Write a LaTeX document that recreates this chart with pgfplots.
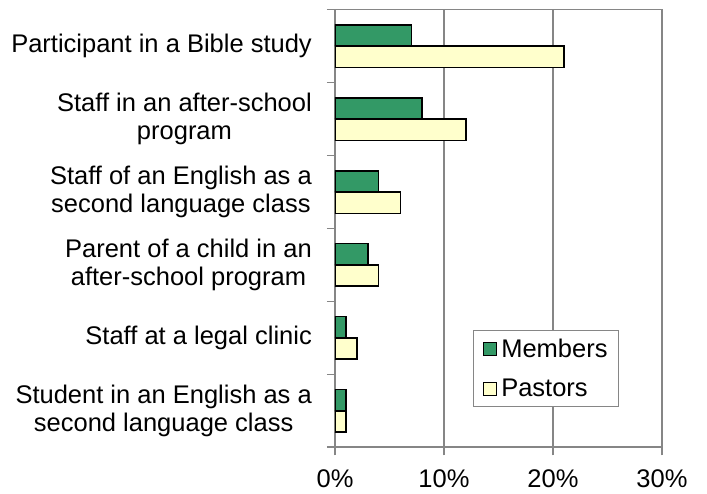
\documentclass[border=0pt]{standalone}
\usepackage{pgfplots}
\pgfplotsset{compat=1.18}
\usepackage{fontspec}
\setmainfont{Liberation Sans}
\definecolor{memgreen}{RGB}{51,153,102}
\definecolor{pasyellow}{RGB}{255,255,204}
\definecolor{axgray}{RGB}{134,134,134}
\newcommand{\chartfont}{\fontsize{25.5pt}{27.5pt}\selectfont}
\begin{document}
\begin{tikzpicture}
\path[use as bounding box] (0,0) rectangle (707pt,494pt);
\begin{axis}[
  at={(335pt,46.7pt)}, anchor=south west,
  scale only axis, width=327pt, height=437.6pt,
  xbar, bar width=21.3pt,
  xmin=0, xmax=30, ymin=-0.5, ymax=5.5,
  xtick={0,10,20,30},
  xticklabel={\pgfmathprintnumber{\tick}\%},
  /pgf/number format/assume math mode=true,
  ytick={-0.5,0.5,...,5.5},
  y tick label as interval,
  yticklabels={{Student in an English as a\\second language class},
    {Staff at a legal clinic},
    {Parent of a child in an\\after-school program},
    {Staff of an English as a\\second language class},
    {Staff in an after-school\\program},
    {Participant in a Bible study}},
  yticklabel style={align=center, font=\chartfont, inner sep=0pt, xshift=-15pt},
  xticklabel style={font=\chartfont, inner sep=0pt, yshift=-14pt},
  xtick pos=bottom, ytick pos=left,
  tick align=outside, major tick length=8pt,
  tick style={draw=axgray, line width=1.6pt},
  axis line style={draw=axgray, line width=1.6pt},
  xmajorgrids, grid style={draw=axgray, line width=1.6pt},
  legend style={at={(0.422,0.268)}, anchor=north west, draw=axgray, line width=1.2pt,
    font=\chartfont, inner xsep=9pt, inner ysep=6.5pt, row sep=16pt,
    /tikz/every odd column/.style={column sep=2.5pt}},
  legend cell align=left,
  legend image code/.code={\draw[#1, line width=1.2pt] (0pt,-6.5pt) rectangle (13pt,6.5pt);},
]
\addplot[fill=memgreen, draw=black, line width=1.6pt, bar shift=10.65pt]
  coordinates {(1,0) (1,1) (3,2) (4,3) (8,4) (7,5)};
\addplot[fill=pasyellow, draw=black, line width=1.6pt, bar shift=-10.65pt]
  coordinates {(1,0) (2,1) (4,2) (6,3) (12,4) (21,5)};
\legend{Members, Pastors}
\end{axis}
\end{tikzpicture}
\end{document}
